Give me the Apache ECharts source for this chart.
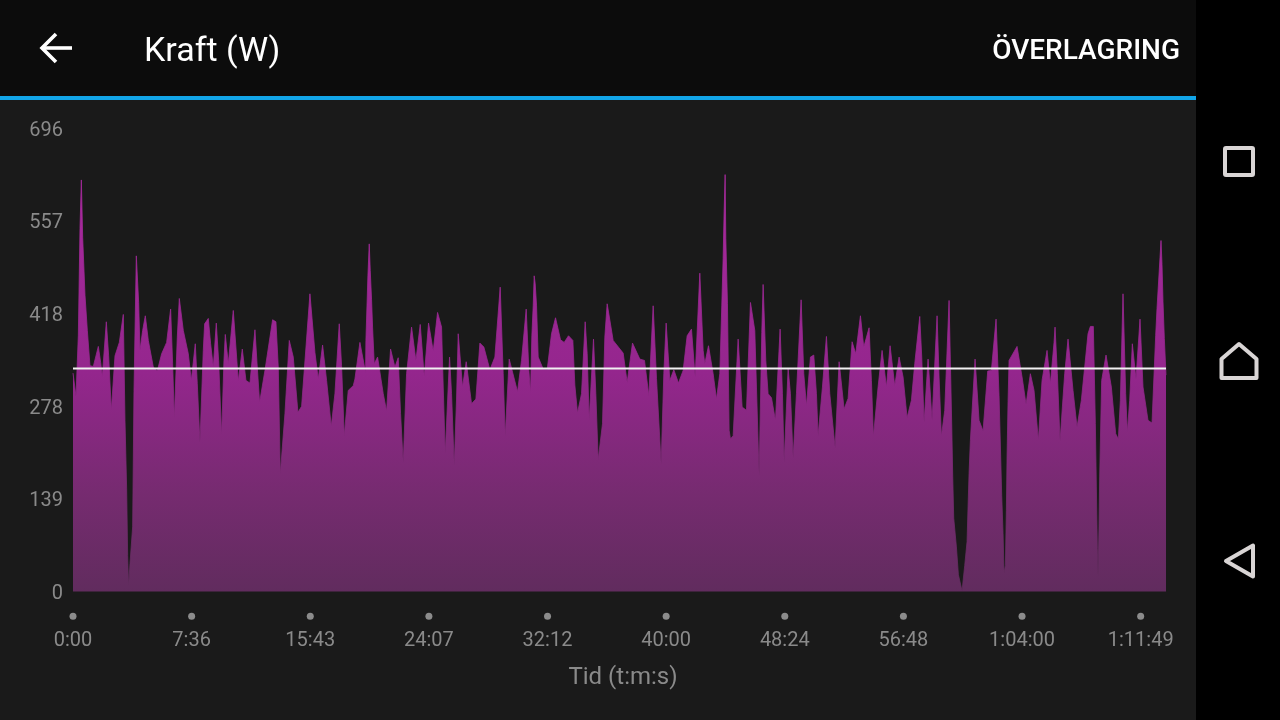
<!DOCTYPE html>
<html>
<head>
<meta charset="utf-8">
<style>html,body{margin:0;padding:0;background:#1a1a1a}#c{width:1280px;height:720px}</style>
<script src="https://cdn.jsdelivr.net/npm/echarts@6/dist/echarts.min.js"></script>
</head>
<body>
<div id="c"></div>
<script>
const titleText = 'Kraft (W)';
const actionText = 'ÖVERLAGRING';
const xAxisName = 'Tid (t:m:s)';
const xTickLabels = ['0:00','7:36','15:43','24:07','32:12','40:00','48:24','56:48','1:04:00','1:11:49'];
const yTickLabels = ['0','139','278','418','557','696'];
const meanPower = 335;
const sampleIndex = [
0,2.25,4,5.25,6.25,7.25,9,10.75,12.75,15.25,19,20.75,22,25,26.75,28.75,31.5,34.75,37.75,39,40.25,41,41.75,42.75,44.75,45.25,45.75,47.5,49.25,50.25,52.25,54.25,56.5,60.25,63.25,66.5,70.25,73.25,74.75,76,78.25,79.75,82.75,86.5,88.75,91.75,93.25,95.25,97.75,98.75,101.5,103.25,105.25,107.5,109.25,111.5,113.25,114.25,116.5,120.25,122.75,124,127,129.75,132.75,136.5,138.25,140,144,149.75,152.25,154,155.5,159,162.25,165.25,168.75,171.5,177.75,181.5,184,187.25,190.25,193.75,196.5,199.75,201.5,203.5,206.5,210.25,
211.5,215.25,219.5,219.75,221.25,222.25,223,224,224.75,226,228.5,232.75,235.25,238.25,241.5,244,245.75,247.75,250.25,254,257.25,260.5,263.5,266.75,270.25,273.5,276.5,277.75,279.25,282.5,284,286,287.75,289,292.25,295,299,302.25,305.25,308.25,312.75,316.5,320.5,322.75,324.25,327.25,333.5,336.5,340,342,343.25,344.25,345.25,346,346.75,347.75,349,352.75,355.75,359,362,365.75,368.5,371.75,375,376.5,378.5,381.5,384.25,385.75,387.25,390.5,392.25,394,397.25,399,400.75,405.25,412.75,415.75,419.75,425.25,428.75,
432,435.25,437.75,441.25,443.25,445,447.75,450.75,454.25,457.75,460.75,464,466.75,470.25,472.75,474,476.75,480.25,482.75,485.25,486.75,487.75,488.5,489.25,489.75,491,492.25,493.25,495.25,499,502,505.25,508.25,511.5,512.75,514.75,516.75,517.75,519.75,521.5,524,527,530.5,532.25,533.5,536.5,538.25,540.25,542.75,546.25,548.25,550.25,553.25,555.75,557.75,559,562.25,565.25,567.75,571.75,574.75,578.5,581.5,584.5,587.25,590.75,593.25,597.25,599,600.5,604,607,610.25,613,616.5,619.75,622.75,625.75,629,631.5,
635.25,636.75,638.5,641.5,644.5,648.25,649.75,651.5,654,657.25,659.25,660,660.75,662.75,664.25,667,669,670.75,671.5,672.25,673.25,676.75,679.75,682.75,686.25,689,692.5,694.75,696.75,697.75,698.5,699.5,700.25,700.75,701.5,702.25,708.25,712.25,715,718.25,721,724.25,727,730.75,733.25,736,736.75,738.5,740.5,744,746.5,750.25,753.25,756.5,761.5,763.25,765.5,767,767.75,768.5,769,769.75,770.25,771,771.75,775,779,782.25,784.25,785.75,787.75,789.75,791,792.75,794.75,797.5,800.5,802.75,806.5,809.5,812.25,813.25,815.5,816.25,817,817.75,818.75,820
];
const powerWatts = [
328,293,385,545,618,532,445,392,339,338,368,344,323,405,354,272,354,374,416,257,154,54,7,42,97,199,300,504,434,362,392,414,377,337,331,357,374,424,342,260,382,440,392,357,317,372,312,224,362,402,410,372,337,403,347,234,347,386,342,422,352,316,364,317,313,393,337,284,332,408,405,337,176,267,377,352,269,278,447,359,319,370,317,248,297,402,339,234,302,309,
319,374,329,377,474,522,482,438,397,342,352,297,271,364,337,351,267,193,327,397,347,401,323,403,361,419,397,307,207,352,297,189,289,387,307,345,282,289,373,367,333,352,457,327,233,349,300,347,424,332,298,384,429,474,462,430,352,334,333,387,411,378,374,384,377,310,268,297,405,357,257,379,297,198,252,382,432,377,358,314,373,349,347,
294,429,320,191,327,403,317,333,313,332,384,394,322,478,362,342,369,327,289,327,430,500,570,626,530,432,242,229,234,379,277,272,434,392,307,174,389,461,347,297,291,257,394,297,194,335,297,200,297,438,327,279,352,355,297,234,307,383,297,216,345,274,290,375,357,414,367,396,317,233,307,362,307,369,309,352,322,261,287,342,
413,352,254,349,257,414,322,233,272,437,250,172,110,67,25,1,39,75,127,177,227,349,257,241,331,332,409,294,144,87,28,39,122,202,285,347,368,319,281,327,302,227,317,362,312,374,397,327,226,327,379,302,247,287,387,398,398,252,157,65,22,97,172,247,317,355,307,237,229,287,447,297,239,287,372,319,409,307,257,253,384,425,501,527,491,435,380,325
];

const chart = echarts.init(document.getElementById('c'), null, {renderer:'canvas'});
const TICK_STEP = 89;
const power = sampleIndex.map((s,i)=>[s,powerWatts[i]]);
const tickDots = xTickLabels.map((_,i)=>[i*TICK_STEP,-37]);
const iconStyle = {stroke:'#d9d5d5',lineWidth:4,fill:'none',lineJoin:'round'};
const fillStops = [{offset:0,color:'#aa299f'},{offset:0.476,color:'#94268d'},{offset:0.764,color:'#762b70'},{offset:1,color:'#612c5e'}];
chart.setOption({
  animation:false,
  backgroundColor:'#1a1a1a',
  textStyle:{fontFamily:'Roboto'},
  grid:{left:73,right:114,top:128,bottom:128.5,containLabel:false},
  xAxis:{
    type:'value',min:0,max:820,interval:TICK_STEP,
    splitLine:{show:false},axisLine:{show:false},axisTick:{show:false},
    axisLabel:{color:'#8a8a8a',fontSize:20,fontFamily:'Roboto',margin:39,hideOverlap:false,
      formatter:v=>xTickLabels[Math.round(v/TICK_STEP)]||''},
    name:xAxisName,nameLocation:'middle',nameGap:74,
    nameTextStyle:{color:'#8a8a8a',fontSize:24,fontFamily:'Roboto',padding:[0,0,0,7]}
  },
  yAxis:{
    type:'value',min:0,max:696,interval:139.2,
    splitLine:{show:false},axisLine:{show:false},axisTick:{show:false},
    axisLabel:{color:'#8a8a8a',fontSize:20,fontFamily:'Roboto',margin:10,verticalAlign:'top',lineHeight:5,
      formatter:v=>yTickLabels[Math.round(v/139.2)]}
  },
  series:[
    {type:'line',data:power,showSymbol:false,sampling:null,silent:true,z:2,
      lineStyle:{width:0.8,color:new echarts.graphic.LinearGradient(0,0,0,1,fillStops)},
      areaStyle:{opacity:1,color:new echarts.graphic.LinearGradient(0,0,0,1,fillStops)}},
    {type:'line',data:[[0,meanPower],[820,meanPower]],showSymbol:false,silent:true,z:3,
      lineStyle:{color:'#f2f0f2',width:2}},
    {type:'scatter',data:tickDots,symbolSize:7,clip:false,silent:true,z:3,itemStyle:{color:'#8c8c8c',opacity:1}}
  ],
  graphic:[
    {type:'rect',z:-1,shape:{x:0,y:0,width:1196,height:96},style:{fill:'#0c0c0c'}},
    {type:'rect',z:-1,shape:{x:0,y:96,width:1196,height:4},style:{fill:'#12a5e8'}},
    {type:'rect',z:-1,shape:{x:1196,y:0,width:84,height:720},style:{fill:'#000000'}},
    {type:'polyline',shape:{points:[[72,48],[43,48]]},style:{stroke:'#fff',lineWidth:3.6,fill:'none'}},
    {type:'polyline',shape:{points:[[56,34],[42,48],[56,62]]},style:{stroke:'#fff',lineWidth:3.6,fill:'none'}},
    {type:'text',style:{x:144,y:52,text:titleText,fill:'#ffffff',font:'34px Roboto',textAlign:'left',textVerticalAlign:'middle'}},
    {type:'text',style:{x:1180,y:52,text:actionText,fill:'#ffffff',font:'500 28px Roboto',textAlign:'right',textVerticalAlign:'middle'}},
    {type:'rect',shape:{x:1225,y:148,width:28,height:27,r:1},style:iconStyle},
    {type:'polygon',shape:{points:[[1239,344],[1221.5,359],[1221.5,378],[1256.5,378],[1256.5,359]]},style:iconStyle},
    {type:'polygon',shape:{points:[[1226,561],[1253,545.5],[1253,576.5]]},style:iconStyle}
  ]
});
</script>
</body>
</html>
